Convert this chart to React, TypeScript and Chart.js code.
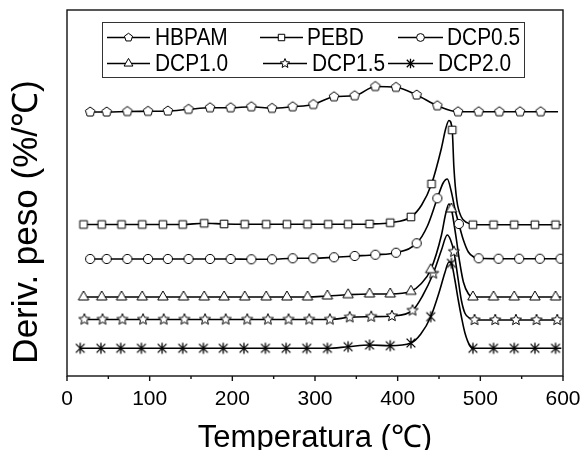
import React, { useEffect, useRef } from 'react';
import { Chart, registerables } from 'chart.js';

Chart.register(...registerables);

// ---------------- data ----------------
const SERIES_NAMES = ['HBPAM', 'PEBD', 'DCP0.5', 'DCP1.0', 'DCP1.5', 'DCP2.0'];
const X_TICKS = [0, 100, 200, 300, 400, 500, 600];
const X_MINOR_TICKS = [50, 150, 250, 350, 450, 550];
const X_TITLE = 'Temperatura (\u2103)';
const Y_TITLE = 'Deriv. peso (%/\u2103)';

// HBPAM (pentagon markers)
const hbpamMarkT = [28, 48, 73, 98, 122, 147, 173, 198, 223, 248, 273, 298, 323, 348, 373, 398, 423, 448, 473, 498, 523, 548, 573];
const hbpamMarkV = [264, 264, 264.5, 264.7, 265, 266.7, 268.3, 268.3, 269.3, 267.7, 269.3, 271.5, 279.3, 280.3, 289.5, 288.7, 281, 270.3, 264.3, 264.3, 264.3, 264.3, 264.3];
const hbpamCurveT = [594];
const hbpamCurveV = [264.3];

// PEBD (square markers)
const pebdMarkT = [20, 42, 66, 91, 116, 140, 166, 190, 215, 241, 266, 291, 316, 340, 366, 391, 416, 441, 466, 491, 516, 541, 566, 591];
const pebdMarkV = [151.5, 151.5, 151.5, 151.5, 151.5, 151.5, 152.7, 152, 151.7, 151.7, 151.7, 151.7, 151.7, 151.7, 152, 153.3, 159, 192, 246, 151.3, 151.3, 151.3, 151.3, 151.3];
const pebdCurveT = [429, 453, 458, 462, 468, 471.5, 477, 484, 598];
const pebdCurveV = [171, 228, 247, 255.5, 209, 176, 159, 153.3, 151.3];

// DCP0.5 (circle markers)
const dcp05MarkT = [28, 48, 73, 98, 122, 147, 173, 198, 223, 248, 273, 298, 323, 348, 373, 398, 423, 448, 474, 498, 522, 547, 572, 597];
const dcp05MarkV = [117, 117, 117, 117, 117, 117, 117, 117, 116.7, 116.7, 117.7, 117.7, 118.7, 120, 121.3, 123.3, 132.7, 177.7, 152, 117.7, 117.3, 117.3, 117.3, 117.3];
const dcp05CurveT = [436, 455, 460, 465, 469, 479.5, 485.5, 492];
const dcp05CurveV = [150, 193, 197, 184, 168, 136, 124, 119];

// DCP1.0 (triangle markers)
const dcp10MarkT = [20, 42, 66, 91, 116, 141, 166, 190, 215, 241, 266, 291, 315, 340, 366, 391, 416, 440, 465, 491, 516, 541, 566, 591];
const dcp10MarkV = [79, 79, 79, 79, 79, 79, 79, 79, 79, 79, 79, 79, 80, 81.3, 82, 82, 84.7, 106.3, 167, 79, 79, 79, 79, 79];
const dcp10CurveT = [428, 453, 458, 462, 468, 471.5, 475, 479.5, 485.5, 598];
const dcp10CurveV = [92, 141, 162, 172, 153, 134, 114, 94, 82.3, 79];

// DCP1.5 (star markers)
const dcp15MarkT = [21, 43, 67, 92, 117, 142, 167, 192, 218, 243, 268, 293, 318, 342, 368, 393, 418, 443, 468, 493, 518, 543, 568, 593];
const dcp15MarkV = [56.5, 56.5, 56.5, 56.5, 56.5, 56.5, 56.5, 56.5, 56.5, 56.5, 56.5, 56.5, 56.5, 58.7, 59.3, 60, 65.5, 102.5, 124.3, 56, 56, 56, 56, 56];
const dcp15CurveT = [430, 453, 460, 464, 473.3, 477, 481.4, 487.5, 598];
const dcp15CurveV = [80, 126, 141, 136, 96, 76, 62.7, 57.7, 56];

// DCP2.0 (asterisk markers)
const dcp20MarkT = [16, 41, 65, 90, 115, 140, 165, 189, 214, 240, 265, 290, 315, 340, 366, 391, 416, 440, 465, 491, 516, 541, 566, 591];
const dcp20MarkV = [27.7, 27.7, 27.7, 27.7, 27.7, 27.7, 27.7, 27.7, 27.7, 27.7, 27.7, 27.7, 27.7, 29.3, 31, 30.3, 33, 59.3, 112.7, 27.7, 27.7, 27.7, 27.7, 27.7];
const dcp20CurveT = [428, 451, 457, 462, 469, 473.3, 477.4, 481.4, 487.5, 598];
const dcp20CurveV = [42, 86, 103, 114, 97, 76, 58, 43, 30, 27.7];

// ---------------- styling ----------------
type Shape = 'pentagon' | 'square' | 'circle' | 'triangle' | 'star' | 'asterisk';

const SERIES = [
  { name: SERIES_NAMES[0], shape: 'pentagon' as Shape, r: 5, markT: hbpamMarkT, markV: hbpamMarkV, curveT: hbpamCurveT, curveV: hbpamCurveV },
  { name: SERIES_NAMES[1], shape: 'square' as Shape, r: 3.8, markT: pebdMarkT, markV: pebdMarkV, curveT: pebdCurveT, curveV: pebdCurveV },
  { name: SERIES_NAMES[2], shape: 'circle' as Shape, r: 4.6, markT: dcp05MarkT, markV: dcp05MarkV, curveT: dcp05CurveT, curveV: dcp05CurveV },
  { name: SERIES_NAMES[3], shape: 'triangle' as Shape, r: 6, markT: dcp10MarkT, markV: dcp10MarkV, curveT: dcp10CurveT, curveV: dcp10CurveV },
  { name: SERIES_NAMES[4], shape: 'star' as Shape, r: 5.8, markT: dcp15MarkT, markV: dcp15MarkV, curveT: dcp15CurveT, curveV: dcp15CurveV },
  { name: SERIES_NAMES[5], shape: 'asterisk' as Shape, r: 5.6, markT: dcp20MarkT, markV: dcp20MarkV, curveT: dcp20CurveT, curveV: dcp20CurveV },
];

// legend layout (pixel positions): line start, line end, text x, row
const LEGEND_LAYOUT = [
  { x1: 107, x2: 150, tx: 155, row: 0 },
  { x1: 260, x2: 303, tx: 307, row: 0 },
  { x1: 398, x2: 443, tx: 447, row: 0 },
  { x1: 107, x2: 150, tx: 155, row: 1 },
  { x1: 263, x2: 307, tx: 312, row: 1 },
  { x1: 388, x2: 433, tx: 438, row: 1 },
];
const LEGEND_ROW_Y = [37.5, 63.5];
const LEGEND_BOX = { left: 102, top: 22, right: 524, bottom: 77 };
const FONT = '"Liberation Sans", Arial, Helvetica, sans-serif';

function pathShape(g: CanvasRenderingContext2D, shape: Shape, x: number, y: number, r: number) {
  g.beginPath();
  if (shape === 'circle') {
    g.arc(x, y, r, 0, Math.PI * 2);
  } else if (shape === 'square') {
    g.rect(x - r, y - r, 2 * r, 2 * r);
  } else if (shape === 'pentagon' || shape === 'triangle') {
    const n = shape === 'pentagon' ? 5 : 3;
    for (let k = 0; k < n; k++) {
      const a = -Math.PI / 2 + (k * 2 * Math.PI) / n;
      const px = x + r * Math.cos(a);
      const py = y + r * Math.sin(a);
      if (k) g.lineTo(px, py);
      else g.moveTo(px, py);
    }
    g.closePath();
  } else if (shape === 'star') {
    for (let k = 0; k < 10; k++) {
      const rr = k % 2 ? r * 0.45 : r;
      const a = -Math.PI / 2 + (k * Math.PI) / 5;
      const px = x + rr * Math.cos(a);
      const py = y + rr * Math.sin(a);
      if (k) g.lineTo(px, py);
      else g.moveTo(px, py);
    }
    g.closePath();
  } else {
    g.moveTo(x, y - r);
    g.lineTo(x, y + r);
    const d = r * 0.78;
    g.moveTo(x - d, y - d);
    g.lineTo(x + d, y + d);
    g.moveTo(x + d, y - d);
    g.lineTo(x - d, y + d);
  }
}

function drawShape(g: CanvasRenderingContext2D, shape: Shape, x: number, y: number, r: number) {
  pathShape(g, shape, x, y, r);
  if (shape !== 'asterisk') {
    g.fillStyle = '#fff';
    g.fill();
  }
  g.strokeStyle = '#000';
  g.lineWidth = shape === 'asterisk' ? 1.3 : 1;
  g.stroke();
}

function makeMarker(shape: Shape, r: number): HTMLCanvasElement {
  const c = document.createElement('canvas');
  const s = Math.ceil(2 * r + 4);
  c.width = s;
  c.height = s;
  const g = c.getContext('2d')!;
  drawShape(g, shape, s / 2, s / 2, r);
  return c;
}

const decorPlugin = {
  id: 'decor',
  afterDraw(chart: any) {
    const { ctx, chartArea: a, scales } = chart;
    const xs = scales.x;
    ctx.save();
    // frame
    ctx.strokeStyle = '#111';
    ctx.lineWidth = 1.4;
    ctx.strokeRect(a.left, a.top, a.right - a.left, a.bottom - a.top);
    // ticks
    ctx.beginPath();
    X_TICKS.forEach((v) => {
      const px = xs.getPixelForValue(v);
      ctx.moveTo(px, a.bottom);
      ctx.lineTo(px, a.bottom + 5);
    });
    X_MINOR_TICKS.forEach((v) => {
      const px = xs.getPixelForValue(v);
      ctx.moveTo(px, a.bottom);
      ctx.lineTo(px, a.bottom + 3);
    });
    ctx.stroke();
    // tick labels
    ctx.fillStyle = '#000';
    ctx.font = `21px ${FONT}`;
    ctx.textAlign = 'center';
    ctx.textBaseline = 'alphabetic';
    X_TICKS.forEach((v) => {
      ctx.fillText(String(v), xs.getPixelForValue(v), 405);
    });
    // x title
    ctx.font = `31px ${FONT}`;
    ctx.fillText(X_TITLE, (a.left + a.right) / 2, 447);
    // y title
    ctx.save();
    ctx.font = `35px ${FONT}`;
    ctx.translate(37, 222);
    ctx.rotate(-Math.PI / 2);
    ctx.fillText(Y_TITLE, 0, 0);
    ctx.restore();
    // legend
    ctx.fillStyle = '#fff';
    ctx.fillRect(LEGEND_BOX.left, LEGEND_BOX.top, LEGEND_BOX.right - LEGEND_BOX.left, LEGEND_BOX.bottom - LEGEND_BOX.top);
    ctx.strokeStyle = '#333';
    ctx.lineWidth = 1;
    ctx.strokeRect(LEGEND_BOX.left + 0.5, LEGEND_BOX.top + 0.5, LEGEND_BOX.right - LEGEND_BOX.left, LEGEND_BOX.bottom - LEGEND_BOX.top);
    ctx.font = `24px ${FONT}`;
    ctx.textAlign = 'left';
    ctx.textBaseline = 'middle';
    SERIES.forEach((s, i) => {
      const L = LEGEND_LAYOUT[i];
      const y = LEGEND_ROW_Y[L.row];
      ctx.strokeStyle = '#000';
      ctx.lineWidth = 1.3;
      ctx.beginPath();
      ctx.moveTo(L.x1, y);
      ctx.lineTo(L.x2, y);
      ctx.stroke();
      drawShape(ctx, s.shape, (L.x1 + L.x2) / 2, y, s.r * 0.85);
      ctx.fillStyle = '#000';
      ctx.save();
      ctx.translate(L.tx, y + 1);
      ctx.scale(0.87, 1);
      ctx.fillText(s.name, 0, 0);
      ctx.restore();
    });
    ctx.restore();
  },
};

export default function App() {
  const ref = useRef<HTMLCanvasElement>(null);
  useEffect(() => {
    const datasets: any[] = [];
    SERIES.forEach((s) => {
      const marks = s.markT.map((t, i) => ({ x: t, y: s.markV[i] }));
      const curve = s.curveT.map((t, i) => ({ x: t, y: s.curveV[i] }));
      const all = [...marks, ...curve].sort((p, q) => p.x - q.x);
      datasets.push({
        label: s.name + ' markers',
        data: marks,
        showLine: false,
        pointStyle: makeMarker(s.shape, s.r),
        pointRadius: s.r,
        order: 0,
      });
      datasets.push({
        label: s.name,
        data: all,
        showLine: true,
        pointRadius: 0,
        borderColor: '#000',
        borderWidth: 1.6,
        cubicInterpolationMode: 'monotone',
        fill: false,
        order: 1,
      });
    });
    const chart = new Chart(ref.current!, {
      type: 'scatter',
      data: { datasets },
      options: {
        responsive: false,
        animation: false,
        devicePixelRatio: 1,
        events: [],
        layout: { padding: { left: 67, right: 18, top: 10, bottom: 74 } },
        scales: {
          x: { type: 'linear', min: 0, max: 600, display: false },
          y: { type: 'linear', min: 0, max: 366, display: false },
        },
        plugins: { legend: { display: false }, tooltip: { enabled: false } },
      },
      plugins: [decorPlugin],
    } as any);
    return () => chart.destroy();
  }, []);
  return (
    <div style={{ position: 'absolute', left: 0, top: 0, width: 581, height: 450, background: '#fff' }}>
      <canvas ref={ref} width={581} height={450} style={{ display: 'block' }} />
    </div>
  );
}
